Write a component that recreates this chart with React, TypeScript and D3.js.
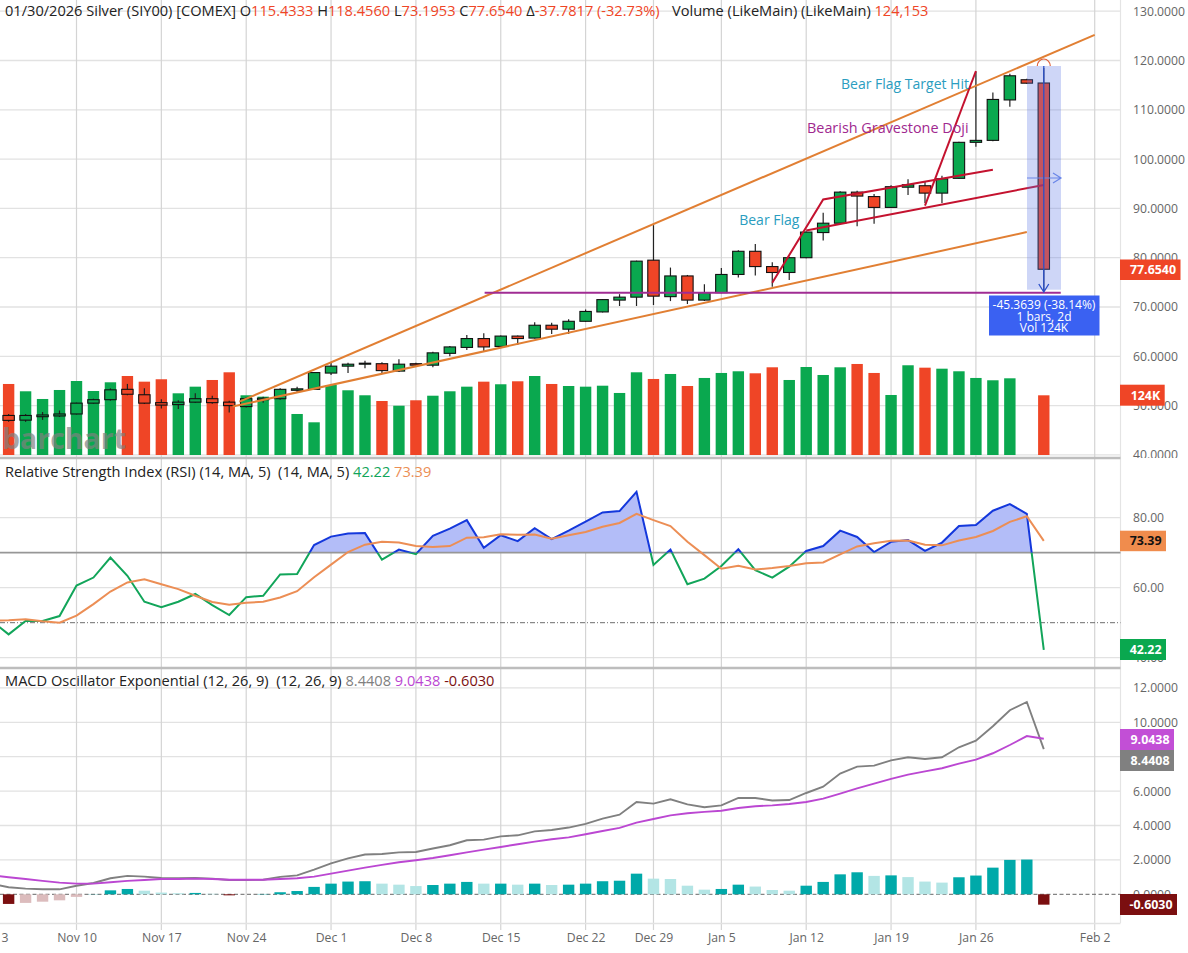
import React, { useEffect, useRef } from 'react';
import * as d3 from 'd3';

// index 0 = Nov 4 2025, index 61 = Jan 30 2026 (daily bars, no gaps)
const opens = [48.0, 47.05, 47.75, 47.9, 48.3, 50.5, 51.2, 53.3, 52.2, 50.6, 50.2, 50.7, 51.4, 50.7, 49.8, 51.2, 51.4, 53.1, 53.3, 56.6, 58.0, 58.4, 58.5, 57.0, 58.5, 58.2, 60.6, 61.8, 63.6, 62.0, 64.1, 63.7, 66.3, 65.5, 67.1, 69.0, 71.4, 72.0, 79.5, 72.1, 76.3, 71.4, 72.9, 76.6, 81.3, 78.2, 77.0, 80.0, 85.1, 87.0, 93.3, 92.4, 90.2, 94.3, 94.6, 93.1, 96.1, 103.4, 103.8, 112.0, 116.1, 115.4333];
const highs = [48.3, 48.3, 48.7, 49.0, 50.6, 51.4, 53.5, 54.4, 53.5, 51.3, 51.1, 52.5, 52.0, 51.0, 51.7, 51.8, 53.5, 53.8, 56.8, 58.7, 58.7, 59.1, 58.8, 59.4, 58.7, 60.9, 62.1, 64.3, 64.7, 64.2, 64.2, 66.9, 66.8, 67.5, 69.5, 71.6, 72.6, 79.4, 86.6, 78.0, 76.5, 74.6, 77.9, 81.5, 82.8, 79.1, 80.2, 85.3, 89.1, 93.5, 93.6, 92.9, 94.7, 95.9, 95.4, 96.6, 103.5, 117.7, 113.5, 117.3, 116.3, 118.456];
const lows = [46.7, 46.7, 47.1, 47.7, 48.2, 50.4, 51.0, 52.1, 50.3, 49.4, 49.3, 50.6, 50.4, 48.6, 49.6, 50.6, 51.2, 52.6, 53.2, 56.2, 56.6, 57.6, 56.6, 56.8, 57.9, 57.8, 60.0, 61.3, 61.1, 61.7, 62.3, 63.6, 64.5, 64.5, 67.0, 68.9, 70.2, 70.2, 70.4, 71.2, 70.6, 71.2, 72.8, 76.0, 76.4, 74.1, 75.5, 79.9, 83.5, 87.0, 86.4, 86.9, 90.1, 92.7, 91.1, 91.1, 96.0, 102.5, 103.6, 110.6, 115.3, 73.1953];
const closes = [47.0, 48.0, 48.1, 48.3, 50.5, 51.2, 53.2, 52.3, 50.5, 50.1, 50.7, 51.4, 50.6, 50.0, 51.4, 51.5, 53.3, 53.4, 56.7, 58.0, 58.4, 58.6, 57.1, 58.4, 58.2, 60.7, 61.9, 63.6, 61.9, 64.1, 63.6, 66.3, 65.5, 67.1, 69.1, 71.5, 72.0, 79.3, 72.2, 76.3, 71.4, 72.9, 76.6, 81.3, 78.2, 77.0, 80.0, 85.2, 87.0, 93.3, 92.5, 90.2, 94.4, 94.8, 93.1, 96.0, 103.4, 103.8, 112.1, 116.9, 115.4, 77.654];

// volume in thousands; the Jan 29 bar is missing in the source
const volumes = [147.7, 132.5, 116.5, 135.2, 153.9, 133.1, 151.2, 164.3, 152.5, 157.5, 128.3, 142.1, 156, 172, 124.2, 121.3, 136.7, 85.3, 68, 145.6, 134.6, 124.2, 112.3, 102.5, 113.8, 123.3, 132.5, 142.1, 152.5, 147.1, 153.3, 164.3, 147.7, 143.5, 142.1, 144.1, 129, 172, 158.1, 168.5, 143.5, 160.2, 170.6, 174.1, 169.9, 182.4, 156, 183, 166.4, 182.4, 189.3, 170.6, 124.8, 186.6, 181.6, 179.5, 174.1, 160.2, 155.4, 159.5, 0, 124.153];

// the oscillator series start one bar earlier, at index -1 (Nov 3)
const rsiValues = [50.5, 46.67, 50.48, 50.48, 51.9, 60.6, 62.9, 68.6, 63.4, 56, 54.4, 56, 58.2, 55, 52.2, 57.3, 57.7, 63.8, 63.9, 72.2, 74.6, 75.5, 75.6, 68, 70.9, 69.6, 74.8, 76.9, 79.3, 71.4, 75, 73.3, 77, 73.9, 76.3, 78.9, 81.5, 81.9, 87.4, 66.5, 70.9, 61, 62.6, 66.2, 71, 65, 62.9, 66, 70.5, 71.9, 76.3, 74.5, 70.2, 73.1, 73.6, 70.5, 72.9, 77.6, 77.9, 82, 83.9, 81.1, 42.22];
const rsiAvg = [50.6, 50.7, 51, 50.4, 50, 52, 55.3, 58.9, 61.5, 62.4, 61, 59.6, 57.7, 55.9, 55.1, 55.7, 56, 57.2, 59, 63, 66.6, 70.2, 72.3, 73.1, 72.9, 71.9, 71.6, 71.9, 74.3, 74.4, 75.3, 75.1, 75.2, 74, 75, 75.9, 77.4, 78.5, 81.1, 79.3, 77.6, 73.1, 69.3, 65.4, 66.3, 65.2, 65.6, 66.2, 67, 67.2, 69.5, 71.8, 72.7, 73.4, 73.5, 72.3, 72.1, 73.5, 74.5, 76.2, 78.8, 80.4, 73.39];
const macdLine = [0.6, 0.41, 0.33, 0.29, 0.29, 0.5, 0.66, 0.93, 1.07, 1.03, 0.95, 0.93, 0.95, 0.91, 0.83, 0.83, 0.85, 1.01, 1.1, 1.43, 1.8, 2.09, 2.31, 2.34, 2.44, 2.46, 2.66, 2.85, 3.14, 3.18, 3.37, 3.43, 3.66, 3.74, 3.88, 4.09, 4.4, 4.63, 5.37, 5.27, 5.52, 5.23, 5.06, 5.17, 5.6, 5.6, 5.45, 5.48, 5.89, 6.26, 7.02, 7.42, 7.48, 7.79, 7.97, 7.87, 7.97, 8.55, 8.93, 9.77, 10.7, 11.18, 8.4408];
const macdSignal = [1.1, 0.99, 0.89, 0.78, 0.68, 0.62, 0.62, 0.7, 0.78, 0.83, 0.89, 0.89, 0.91, 0.89, 0.85, 0.85, 0.85, 0.89, 0.93, 1.03, 1.2, 1.38, 1.55, 1.71, 1.86, 1.98, 2.11, 2.27, 2.44, 2.6, 2.75, 2.91, 3.06, 3.2, 3.31, 3.49, 3.68, 3.86, 4.17, 4.38, 4.59, 4.71, 4.79, 4.86, 5.02, 5.12, 5.17, 5.25, 5.37, 5.56, 5.85, 6.16, 6.43, 6.71, 6.96, 7.15, 7.33, 7.6, 7.83, 8.2, 8.68, 9.2, 9.0438];
// histogram starts at index 0
const macdHist = [-0.56, -0.5, -0.43, -0.35, -0.15, 0.01, 0.23, 0.31, 0.21, 0.1, 0.06, 0.08, 0.03, -0.06, 0, 0.02, 0.12, 0.19, 0.43, 0.62, 0.74, 0.76, 0.62, 0.56, 0.48, 0.54, 0.62, 0.72, 0.62, 0.62, 0.56, 0.62, 0.54, 0.56, 0.62, 0.76, 0.79, 1.2, 0.91, 0.89, 0.5, 0.27, 0.31, 0.56, 0.45, 0.25, 0.21, 0.5, 0.72, 1.16, 1.28, 1.07, 1.1, 1, 0.74, 0.68, 0.99, 1.09, 1.55, 2, 2.02, -0.603];

const dateTickIdx = [-1, 4, 9, 14, 19, 24, 29, 34, 38, 42, 47, 52, 57, 64];
const dateTickLabels = ['Nov 3', 'Nov 10', 'Nov 17', 'Nov 24', 'Dec 1', 'Dec 8', 'Dec 15', 'Dec 22', 'Dec 29', 'Jan 5', 'Jan 12', 'Jan 19', 'Jan 26', 'Feb 2'];
const priceTicks = [130, 120, 110, 100, 90, 80, 70, 60, 50, 40];
const rsiTicks = [80, 60, 40];
const macdTicks = [12, 10, 8, 6, 4, 2, 0];

// drawn trendlines as [bar index, price]
const upperChannel: [number, number][] = [[13.6, 50.8], [64, 125.2]];
const lowerChannel: [number, number][] = [[13.2, 49.8], [60, 85.2]];
const supportLine: [number, number][] = [[28.05, 72.9], [62, 72.9]];
const flagUpper: [number, number][] = [[45, 74.9], [48, 91.8], [58, 97.85]];
const flagLower: [number, number][] = [[47, 85.5], [61, 94.75]];
const flagPole: [number, number][] = [[54, 90.55], [57, 117.87]];

const GREEN = '#0aa84f';
const RED = '#ef4526';
const FONT = '"Open Sans", "Noto Sans", sans-serif';
const W = 1188;
const H = 953;
const PLOT_R = 1120.5;

export default function App() {
  const svgRef = useRef<SVGSVGElement>(null);

  useEffect(() => {
    if (!svgRef.current) return;
    const svg = d3.select(svgRef.current);
    svg.selectAll('*').remove();

    const x = d3.scaleLinear().domain([4, 64]).range([76.5, 1094.7]);
    const yPrice = d3.scaleLinear().domain([120, 40]).range([60.5, 454.9]);
    const yVol = d3.scaleLinear().domain([0, 124.153]).range([455, 395.3]);
    const yRsi = d3.scaleLinear().domain([80, 40]).range([517.7, 657.7]);
    const yMacd = d3.scaleLinear().domain([0, 12]).range([894.3, 687.9]);
    const barW = 11.4;

    const defs = svg.append('defs');
    defs.append('clipPath').attr('id', 'above70').append('rect').attr('x', 0).attr('y', 460).attr('width', PLOT_R).attr('height', yRsi(70) - 460);
    defs.append('clipPath').attr('id', 'below70').append('rect').attr('x', 0).attr('y', yRsi(70)).attr('width', PLOT_R).attr('height', 668 - yRsi(70));
    defs.append('clipPath').attr('id', 'pricePane').append('rect').attr('x', 1121).attr('y', 0).attr('width', 67).attr('height', 458);

    // horizontal grid
    const hGrid = (g: d3.Selection<any, any, any, any>, ys: number[]) => {
      g.selectAll('line').data(ys).enter().append('line')
        .attr('x1', 0).attr('x2', PLOT_R).attr('y1', d => d).attr('y2', d => d)
        .attr('stroke', '#e2e2e2').attr('stroke-width', 1.3);
    };
    hGrid(svg.append('g'), priceTicks.map(d => yPrice(d)));
    hGrid(svg.append('g'), rsiTicks.map(d => yRsi(d)));
    hGrid(svg.append('g'), macdTicks.filter(d => d > 0).map(d => yMacd(d)));

    // vertical grid, runs down into the date axis
    svg.append('g').selectAll('line').data(dateTickIdx).enter().append('line')
      .attr('x1', d => x(d)).attr('x2', d => x(d)).attr('y1', 0).attr('y2', 930)
      .attr('stroke', '#d4d4d4').attr('stroke-width', 1.2);

    // pane frames
    svg.append('line').attr('x1', PLOT_R).attr('x2', PLOT_R).attr('y1', 0).attr('y2', 923).attr('stroke', '#e4e4e4').attr('stroke-width', 1.2);
    [458, 668].forEach(y => {
      svg.append('line').attr('x1', 0).attr('x2', PLOT_R).attr('y1', y).attr('y2', y).attr('stroke', '#bdbdbd').attr('stroke-width', 2.4);
    });
    svg.append('line').attr('x1', 0).attr('x2', PLOT_R).attr('y1', 923.5).attr('y2', 923.5).attr('stroke', '#e2e2e2').attr('stroke-width', 1.5);

    // axes
    const styleAxis = (g: d3.Selection<any, any, any, any>) => {
      g.select('.domain').remove();
      g.selectAll('.tick line').remove();
      g.selectAll('text').attr('fill', '#666').attr('font-family', FONT).attr('font-size', 12.2);
    };
    svg.append('g').attr('clip-path', 'url(#pricePane)').append('g').attr('transform', 'translate(1133,0)')
      .call(d3.axisRight(yPrice).tickValues(priceTicks).tickSize(0).tickPadding(0).tickFormat(d => (+d).toFixed(4)))
      .call(styleAxis);
    svg.append('g').attr('transform', 'translate(1133,0)')
      .call(d3.axisRight(yRsi).tickValues(rsiTicks).tickSize(0).tickPadding(0).tickFormat(d => (+d).toFixed(2)))
      .call(styleAxis);
    svg.append('g').attr('transform', 'translate(1133,0)')
      .call(d3.axisRight(yMacd).tickValues(macdTicks).tickSize(0).tickPadding(0).tickFormat(d => (+d).toFixed(4)))
      .call(styleAxis);
    svg.append('g').attr('transform', 'translate(0,933)')
      .call(d3.axisBottom(x).tickValues(dateTickIdx).tickSize(0).tickPadding(0).tickFormat((_, i) => dateTickLabels[i]))
      .call(styleAxis);

    // volume
    const volBars = volumes.map((v, i) => ({ v, i })).filter(d => d.v > 0);
    svg.append('g').selectAll('rect').data(volBars).enter().append('rect')
      .attr('x', d => x(d.i) - barW / 2)
      .attr('y', d => yVol(d.v)).attr('width', barW).attr('height', d => yVol(0) - yVol(d.v))
      .attr('fill', d => (closes[d.i] >= opens[d.i] ? GREEN : RED));

    // watermark
    svg.append('text').attr('x', 2).attr('y', 449).attr('font-family', FONT).attr('font-weight', 700)
      .attr('font-size', 28.5).attr('fill', '#808080').attr('fill-opacity', 0.7).text('barchart');

    // candles
    const candles = svg.append('g').selectAll('g').data(opens).enter().append('g');
    candles.append('line')
      .attr('x1', (_, i) => x(i)).attr('x2', (_, i) => x(i))
      .attr('y1', (_, i) => yPrice(highs[i])).attr('y2', (_, i) => yPrice(lows[i]))
      .attr('stroke', '#222').attr('stroke-width', 1.2);
    candles.append('rect')
      .attr('x', (_, i) => x(i) - barW / 2).attr('width', barW)
      .attr('y', (_, i) => yPrice(Math.max(opens[i], closes[i])))
      .attr('height', (_, i) => Math.abs(yPrice(opens[i]) - yPrice(closes[i])))
      .attr('fill', (_, i) => (closes[i] >= opens[i] ? GREEN : RED))
      .attr('stroke', '#111').attr('stroke-width', 1.1);

    // trendlines
    const priceLine = d3.line<[number, number]>().x(d => x(d[0])).y(d => yPrice(d[1]));
    const drawLine = (pts: [number, number][], color: string, width: number) => {
      svg.append('path').attr('d', priceLine(pts)).attr('fill', 'none').attr('stroke', color).attr('stroke-width', width);
    };
    drawLine(upperChannel, '#e17f33', 2);
    drawLine(lowerChannel, '#e17f33', 2);
    drawLine(supportLine, '#a02c93', 2);
    drawLine(flagUpper, '#c4122f', 2);
    drawLine(flagLower, '#c4122f', 2);
    drawLine(flagPole, '#c4122f', 2);

    // annotations
    const note = (tx: number, ty: number, s: string, color: string, size = 14) => {
      svg.append('text').attr('x', tx).attr('y', ty).attr('font-family', FONT).attr('font-size', size)
        .attr('fill', color).text(s);
    };
    note(x(47) - 67, 225, 'Bear Flag', '#2a9dc0');
    note(841, 88.5, 'Bear Flag Target Hit', '#2a9dc0');
    note(807, 133, 'Bearish Gravestone Doji', '#a0288f', 14.4);

    // measure tool on the last bar
    const mx = x(61);
    svg.append('path').attr('d', `M${mx - 6.5},66 A6.5,7 0 0 1 ${mx + 6.5},66`).attr('fill', 'none').attr('stroke', '#e0603a').attr('stroke-width', 1.2);
    svg.append('rect').attr('x', 1027).attr('y', 66).attr('width', 34).attr('height', 223.7)
      .attr('fill', '#5c76e4').attr('fill-opacity', 0.3);
    const mid = 178;
    svg.append('path').attr('d', `M1027,${mid}H1061M1053,${mid - 5}L1061,${mid}L1053,${mid + 5}`).attr('fill', 'none').attr('stroke', '#6a86e8').attr('stroke-width', 1.2);
    svg.append('path').attr('d', `M${mx},66V292M${mx - 5},284L${mx},292L${mx + 5},284`).attr('fill', 'none').attr('stroke', '#2b50c8').attr('stroke-width', 1.3);

    const box = svg.append('g');
    box.append('rect').attr('x', 989).attr('y', 295.5).attr('width', 110.5).attr('height', 40).attr('fill', '#3a61f2');
    ['-45.3639 (-38.14%)', '1 bars, 2d', 'Vol 124K'].forEach((s, i) => {
      box.append('text').attr('x', 1044).attr('y', 309 + i * 11.6).attr('text-anchor', 'middle')
        .attr('font-family', FONT).attr('font-size', 12).attr('fill', '#fff').text(s);
    });

    // RSI
    const rsiX = (i: number) => x(i - 1);
    const rsiLine = d3.line<number>().x((_, i) => rsiX(i)).y(d => yRsi(d));
    const rsiArea = d3.area<number>().x((_, i) => rsiX(i)).y0(yRsi(70)).y1(d => yRsi(d));
    svg.append('path').attr('d', rsiArea(rsiValues)).attr('fill', '#b3bdf8').attr('clip-path', 'url(#above70)');
    svg.append('line').attr('x1', 0).attr('x2', PLOT_R).attr('y1', yRsi(70)).attr('y2', yRsi(70)).attr('stroke', '#979797').attr('stroke-width', 1.8);
    svg.append('line').attr('x1', 0).attr('x2', PLOT_R).attr('y1', yRsi(50)).attr('y2', yRsi(50)).attr('stroke', '#6d6d6d').attr('stroke-width', 1).attr('stroke-dasharray', '5 2 1 2');
    svg.append('path').attr('d', rsiLine(rsiValues)).attr('fill', 'none').attr('stroke', '#1438dc').attr('stroke-width', 2).attr('clip-path', 'url(#above70)');
    svg.append('path').attr('d', rsiLine(rsiValues)).attr('fill', 'none').attr('stroke', '#12a55a').attr('stroke-width', 2).attr('clip-path', 'url(#below70)');
    svg.append('path').attr('d', rsiLine(rsiAvg)).attr('fill', 'none').attr('stroke', '#ec8e55').attr('stroke-width', 2);

    // MACD histogram and lines
    svg.append('line').attr('x1', 0).attr('x2', PLOT_R).attr('y1', yMacd(0)).attr('y2', yMacd(0)).attr('stroke', '#666').attr('stroke-width', 1).attr('stroke-dasharray', '4 2.5');
    const histColor = (d: number, i: number) => {
      const prev = macdHist[i - 1];
      const rising = i === 0 || d * prev < 0 || Math.abs(d) >= Math.abs(prev);
      if (d >= 0) return rising ? '#00a9a9' : '#b3e5e5';
      return rising ? '#7b0f10' : '#dcbcbd';
    };
    svg.append('g').selectAll('rect').data(macdHist).enter().append('rect')
      .attr('x', (_, i) => x(i) - barW / 2).attr('width', barW)
      .attr('y', d => Math.min(yMacd(d), yMacd(0)))
      .attr('height', d => Math.abs(yMacd(d) - yMacd(0)))
      .attr('fill', histColor);
    const macdPath = d3.line<number>().x((_, i) => rsiX(i)).y(d => yMacd(d));
    svg.append('path').attr('d', macdPath(macdLine)).attr('fill', 'none').attr('stroke', '#808080').attr('stroke-width', 1.9);
    svg.append('path').attr('d', macdPath(macdSignal)).attr('fill', 'none').attr('stroke', '#bb47d2').attr('stroke-width', 1.9);

    // last-value tags on the right axis
    const tag = (s: string, y0: number, h: number, w: number, bg: string, fg: string) => {
      svg.append('rect').attr('x', 1120).attr('y', y0).attr('width', w).attr('height', h).attr('fill', bg);
      svg.append('text').attr('x', 1120 + w - 4.5).attr('y', y0 + h / 2 + 4.3).attr('text-anchor', 'end')
        .attr('font-family', FONT).attr('font-size', 12.4).attr('font-weight', 700).attr('fill', fg).text(s);
    };
    tag('77.6540', 259.5, 20.5, 60.5, RED, '#fff');
    tag('124K', 384.7, 21, 44.7, RED, '#fff');
    tag('73.39', 530.7, 20.5, 46, '#f08c4d', '#111');
    tag('42.22', 639, 21, 46, GREEN, '#fff');
    tag('9.0438', 729, 21, 54, '#c24fd6', '#fff');
    tag('8.4408', 750, 21, 54, '#808080', '#fff');
    tag('-0.6030', 894, 21, 57, '#7b0f10', '#fff');

    // pane headers
    const header = (y: number, parts: [string, string, number?][]) => {
      const t = svg.append('text').attr('x', 5).attr('y', y).attr('font-family', FONT).attr('font-size', 14.6);
      parts.forEach(([s, c, px]) => {
        const span = t.append('tspan').attr('fill', c).text(s);
        if (px !== undefined) span.attr('x', px);
      });
    };
    const INK = '#222';
    header(16, [
      ['01/30/2026 Silver (SIY00) [COMEX] O', INK], ['115.4333', RED], [' H', INK], ['118.4560', RED],
      [' L', INK], ['73.1953', RED], [' C', INK], ['77.6540', RED], [' Δ', INK], ['-37.7817 (-32.73%)', RED],
      ['Volume (LikeMain) (LikeMain) ', INK, 672], ['124,153', RED],
    ]);
    header(477, [
      ['Relative Strength Index (RSI) (14, MA, 5)\u00a0 (14, MA, 5) ', INK], ['42.22', '#12a55a'], [' ', INK], ['73.39', '#ec8e55'],
    ]);
    header(686, [
      ['MACD Oscillator Exponential (12, 26, 9)\u00a0 (12, 26, 9) ', INK], ['8.4408', '#808080'], [' ', INK], ['9.0438', '#bb47d2'], [' ', INK], ['-0.6030', '#7b0f10'],
    ]);
  }, []);

  return <svg ref={svgRef} width={W} height={H} style={{ position: 'absolute', left: 0, top: 0, background: '#fff' }} />;
}
